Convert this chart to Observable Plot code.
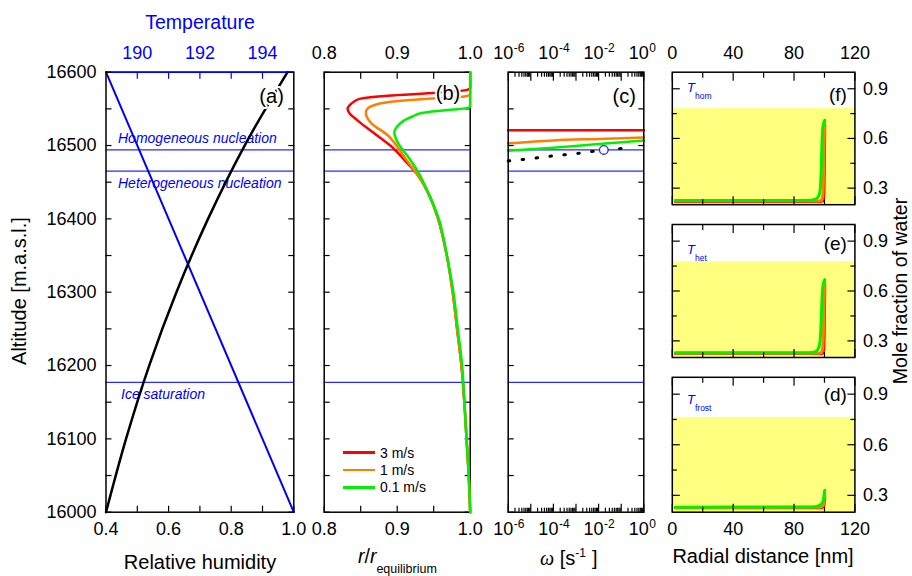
<!DOCTYPE html>
<html><head><meta charset="utf-8">
<script src="https://cdn.jsdelivr.net/npm/d3@7"></script>
<script src="https://cdn.jsdelivr.net/npm/@observablehq/plot@0.6"></script>
<style>
html,body{margin:0;padding:0;overflow:hidden;background:white;}
#chart{position:relative;width:912px;height:576px;overflow:hidden;font-family:'Liberation Sans',Arial,Helvetica,sans-serif;background:white;}
#chart svg{position:absolute;left:0;top:0;}
.lbl{position:absolute;white-space:nowrap;line-height:1;}
</style></head><body><div id="chart"></div>
<script>
// ---------- Panel (a) ----------
const altitudeDomain = [16000, 16600];
const rhDomain = [0.4, 1.0];
const tempDomain = [189, 195];
const rhAltitude = [16000, 16100, 16200, 16300, 16400, 16500, 16600];
const relativeHumidity = [0.400, 0.464, 0.538, 0.625, 0.726, 0.843, 0.980];
const tempAltitude = [16000, 16600];
const temperature = [195.0, 189.0];
const levelAltitude = [16494, 16465, 16177];
const levelName = ["Homogeneous nucleation", "Heterogeneous nucleation", "Ice saturation"];
const tempTickValues = [190, 191, 192, 193, 194];
const tempLabelValues = [190, 192, 194];
const rhTickValues = [0.4, 0.5, 0.6, 0.7, 0.8, 0.9, 1.0];
const rhLabelValues = [0.4, 0.6, 0.8, 1.0];
const altLabelValues = [16000, 16100, 16200, 16300, 16400, 16500, 16600];
const altTickValues = [16000, 16050, 16100, 16150, 16200, 16250, 16300, 16350, 16400, 16450, 16500, 16550, 16600];

// ---------- Panel (b) ----------
const ratioDomain = [0.8, 1.0];
const speeds = ["3 m/s", "1 m/s", "0.1 m/s"];
const speedColors = ["#ff0000", "#ff8000", "#00f000"];
const altB3 = [16000,16050,16100,16150,16200,16250,16300,16350,16400,16430,16460,16480,16496,16517,16534,16545,16550,16555,16560,16564,16568,16572,16576,16579,16600];
const ratioB3 = [1.000,0.998,0.995,0.992,0.988,0.982,0.976,0.968,0.956,0.945,0.928,0.910,0.895,0.868,0.846,0.834,0.832,0.835,0.841,0.850,0.887,0.955,0.996,1.000,1.000];
const altB1 = [16000,16050,16100,16150,16200,16250,16300,16350,16400,16430,16460,16480,16493,16514,16531,16540,16545,16551,16555,16558,16561,16563,16565,16567,16570,16600];
const ratioB1 = [1.000,0.998,0.995,0.992,0.988,0.982,0.976,0.968,0.956,0.945,0.928,0.913,0.904,0.887,0.864,0.858,0.857,0.860,0.868,0.880,0.905,0.932,0.965,0.992,1.000,1.000];
const altB01 = [16000,16050,16100,16150,16200,16250,16300,16350,16400,16434,16465,16486,16502,16510,16518,16526,16534,16540,16544,16547,16549,16551,16553,16600];
const ratioB01 = [1.000,0.998,0.995,0.992,0.989,0.983,0.977,0.968,0.957,0.943,0.928,0.914,0.902,0.898,0.896,0.900,0.909,0.922,0.932,0.955,0.977,0.995,1.000,1.000];
const ratioTickValues = [0.8, 0.85, 0.9, 0.95, 1.0];
const ratioLabelValues = [0.8, 0.9, 1.0];

// ---------- Panel (c) ----------
const omegaDomain = [1e-6, 1];
const omegaB3 = [1e-6, 1]; const altC3 = [16521, 16521];
const omegaB1 = [1e-6, 1e-4, 1e-2, 1]; const altC1 = [16503, 16507, 16509, 16511];
const omegaB01 = [1e-6, 1e-4, 1e-2, 1]; const altC01 = [16493, 16497, 16502, 16507];
const omegaDotted = [1e-6, 1e-5, 1e-4, 1e-3, 1e-2, 1e-1, 0.3];
const altDotted = [16479, 16482, 16486, 16489, 16493, 16496, 16499];
const omegaCircle = [0.017]; const altCircle = [16494];
const omegaDecades = [1e-6, 1e-5, 1e-4, 1e-3, 1e-2, 1e-1, 1];
const minorMultipliers = [2, 3, 4, 5, 6, 7, 8, 9];
const omegaLabelValues = [1e-6, 1e-4, 1e-2, 1];
const omegaExponents = ["-6", "-4", "-2", "0"];

// ---------- Panels (d)(e)(f) ----------
const radialDomain = [0, 120];
const moleDomain = [0.2, 1.0];
const panelLetters = ["(f)", "(e)", "(d)"];
const panelSubscripts = ["hom", "het", "frost"];
const yellowTop = [0.78, 0.776, 0.762];
const radialTickValues = [0, 40, 80, 120];
const radialMinorTicks = [20, 60, 100];
const radialLabelValues = [0, 40, 80, 120];
const moleTickValues = [0.3, 0.6, 0.9];
const moleMinorTicks = [0.45, 0.75];
const moleLabelValues = [0.3, 0.6, 0.9];
// f
const rF3 = [2, 97, 99, 99.5, 99.8, 100, 100.2];          const vF3 = [0.220, 0.220, 0.223, 0.250, 0.350, 0.500, 0.680];
const rF1 = [2, 96, 98, 98.8, 99.3, 99.7, 100, 100.2];    const vF1 = [0.222, 0.222, 0.226, 0.250, 0.350, 0.550, 0.650, 0.700];
const rF01 = [2, 90, 93, 95, 96, 97, 97.5, 98, 98.4, 98.8, 99.4, 100.2];
const vF01 = [0.225, 0.226, 0.230, 0.238, 0.250, 0.280, 0.330, 0.450, 0.580, 0.650, 0.690, 0.710];
// e
const rE3 = [2, 97, 99, 99.5, 99.8, 100, 100.2];          const vE3 = [0.224, 0.224, 0.227, 0.250, 0.340, 0.480, 0.640];
const rE1 = [2, 96, 98, 98.8, 99.3, 99.7, 100, 100.2];    const vE1 = [0.226, 0.226, 0.230, 0.255, 0.350, 0.520, 0.620, 0.660];
const rE01 = [2, 90, 93, 95, 96, 97, 97.5, 98, 98.5, 99, 99.6, 100.2];
const vE01 = [0.228, 0.229, 0.232, 0.240, 0.255, 0.290, 0.350, 0.460, 0.570, 0.630, 0.655, 0.668];
// d
const rD3 = [2, 98, 99.5, 100, 100.2];                    const vD3 = [0.227, 0.227, 0.238, 0.265, 0.295];
const rD1 = [2, 97, 99, 99.7, 100.2];                     const vD1 = [0.228, 0.229, 0.238, 0.265, 0.310];
const rD01 = [2, 90, 94, 96, 97.5, 98.5, 99.2, 99.7, 100.2];
const vD01 = [0.230, 0.231, 0.233, 0.238, 0.245, 0.255, 0.270, 0.300, 0.330];

// ---------- helpers ----------
const W = 912, H = 576;
const FONT = "'Liberation Sans', Arial, Helvetica, sans-serif";
const BLUE = "#0000ff";
const LEVEL_BLUE = "#2a2aff";
const chart = document.getElementById("chart");
const zip = (xs, ys, kx, ky) => xs.map((v, i) => ({[kx]: v, [ky]: ys[i]}));
const styleObj = {background: "transparent", fontFamily: FONT, fontSize: "18px", overflow: "visible"};
const BOTTOM_PAD = 10, TOP_PAD = 13;

function frame(l, r, t, b) {
  return {width: W, height: H, marginLeft: l, marginRight: W - r, marginTop: t, marginBottom: H - b};
}
function inTicksX(anchor, ticks, size, stroke = "black") {
  return Plot.axisX({anchor, ticks, tickSize: size, dy: anchor === "bottom" ? -size : size,
    stroke, fill: "none", tickFormat: () => "", label: null, strokeWidth: 1.2});
}
function inTicksY(anchor, ticks, size, stroke = "black") {
  return Plot.axisY({anchor, ticks, tickSize: size, dx: anchor === "left" ? size : -size,
    stroke, fill: "none", tickFormat: () => "", label: null, strokeWidth: 1.2});
}
function mount(svg) { chart.appendChild(svg); }
function centered(html, cx, cy, size, extra = "", css = "") {
  const d = document.createElement("div");
  d.className = "lbl";
  d.style.cssText = `left:${cx}px;top:${cy}px;font-size:${size}px;transform:translate(-50%,-50%) ${extra};${css}`;
  d.innerHTML = html; chart.appendChild(d);
}
function atBaseline(html, x, baseline, size, css = "") {
  const d = document.createElement("div");
  d.className = "lbl";
  d.style.cssText = `left:${x}px;top:${baseline - 0.8465 * size}px;font-size:${size}px;${css}`;
  d.innerHTML = html; chart.appendChild(d);
}

const tToX = T => rhDomain[0] + (T - tempDomain[0]) / (tempDomain[1] - tempDomain[0]) * (rhDomain[1] - rhDomain[0]);
const xToT = x => tempDomain[0] + (x - rhDomain[0]) / (rhDomain[1] - rhDomain[0]) * (tempDomain[1] - tempDomain[0]);
const panelLabel = (txt, dx, dy, size) => Plot.text([txt], {frameAnchor: "top-right", dx, dy, text: d => d, textAnchor: "end",
  lineAnchor: "middle", fontSize: size, fill: "black", stroke: "white", strokeWidth: 4});

// ---------- Panel (a) ----------
const FA = frame(105.5, 293.3, 71.7, 511.7);
const labelStyle = {fill: BLUE, fontStyle: "italic", fontSize: 14, textAnchor: "start", stroke: "white", strokeWidth: 3};
mount(Plot.plot({
  ...FA, style: styleObj,
  x: {domain: rhDomain}, y: {domain: altitudeDomain},
  marks: [
    Plot.ruleY(levelAltitude, {stroke: LEVEL_BLUE, strokeWidth: 1.3}),
    Plot.text([levelAltitude[0]], {y: d => d, frameAnchor: "left", dx: 12, dy: -11, text: () => levelName[0], ...labelStyle}),
    Plot.text([levelAltitude[1]], {y: d => d, frameAnchor: "left", dx: 12, dy: 12, text: () => levelName[1], ...labelStyle}),
    Plot.text([levelAltitude[2]], {y: d => d, frameAnchor: "left", dx: 15, dy: 12, text: () => levelName[2], ...labelStyle}),
    Plot.line(zip(tempAltitude, temperature, "alt", "T"), {x: d => tToX(d.T), y: "alt", stroke: BLUE, strokeWidth: 2}),
    Plot.line(zip(rhAltitude, relativeHumidity, "alt", "rh"), {x: "rh", y: "alt", stroke: "black", strokeWidth: 2.5, curve: "monotone-y"}),
    panelLabel("(a)", -10, 24, 20),
    Plot.frame({stroke: "black", strokeWidth: 1.5}),
    Plot.ruleY([altitudeDomain[1]], {stroke: BLUE, strokeWidth: 1.6}),
    inTicksX("bottom", rhTickValues, 6),
    inTicksX("top", tempTickValues.map(tToX), 6, BLUE),
    inTicksY("left", altTickValues, 6),
    inTicksY("right", altTickValues, 6),
    Plot.axisX({anchor: "bottom", ticks: rhLabelValues, tickSize: 0, tickPadding: BOTTOM_PAD, tickFormat: d3.format(".1f"), label: null}),
    Plot.axisX({anchor: "top", ticks: tempLabelValues.map(tToX), tickSize: 0, tickPadding: TOP_PAD, tickFormat: d => String(Math.round(xToT(d))), fill: BLUE, label: null}),
    Plot.axisY({anchor: "left", ticks: altLabelValues, tickSize: 0, tickPadding: 9.5, tickFormat: d => String(d), label: null})
  ]
}));

// ---------- Panel (b) ----------
const FB = frame(323.7, 469.7, 71.7, 511.7);
mount(Plot.plot({
  ...FB, style: styleObj,
  x: {domain: ratioDomain}, y: {domain: altitudeDomain},
  marks: [
    Plot.ruleY(levelAltitude, {stroke: LEVEL_BLUE, strokeWidth: 1.3}),
    Plot.frame({stroke: "black", strokeWidth: 1.5}),
    inTicksX("bottom", ratioTickValues, 6),
    inTicksX("top", ratioTickValues, 6),
    inTicksY("left", altTickValues, 6),
    inTicksY("right", altTickValues, 6),
    Plot.line(zip(altB3, ratioB3, "alt", "r"), {x: "r", y: "alt", stroke: speedColors[0], strokeWidth: 2.5, curve: "monotone-y"}),
    Plot.line(zip(altB1, ratioB1, "alt", "r"), {x: "r", y: "alt", stroke: speedColors[1], strokeWidth: 2.5, curve: "monotone-y"}),
    Plot.line(zip(altB01, ratioB01, "alt", "r"), {x: "r", y: "alt", stroke: speedColors[2], strokeWidth: 2.5, curve: "monotone-y"}),
    panelLabel("(b)", -10, 21.5, 20),
    Plot.axisX({anchor: "bottom", ticks: ratioLabelValues, tickSize: 0, tickPadding: BOTTOM_PAD, tickFormat: d3.format(".1f"), label: null}),
    Plot.axisX({anchor: "top", ticks: ratioLabelValues, tickSize: 0, tickPadding: TOP_PAD, tickFormat: d3.format(".1f"), label: null})
  ]
}));

// ---------- Panel (c) ----------
const FC = frame(507.7, 643.3, 71.7, 511.7);
const omegaMinor = omegaDecades.slice(0, -1).flatMap(d => minorMultipliers.map(m => m * d));
mount(Plot.plot({
  ...FC, style: styleObj,
  x: {type: "log", domain: omegaDomain}, y: {domain: altitudeDomain},
  marks: [
    Plot.ruleY(levelAltitude, {stroke: LEVEL_BLUE, strokeWidth: 1.3}),
    Plot.line(zip(omegaDotted, altDotted, "w", "alt"), {x: "w", y: "alt", stroke: "black", strokeWidth: 3, strokeDasharray: "1.5,12.5", strokeLinecap: "round"}),
    Plot.line(zip(omegaB3, altC3, "w", "alt"), {x: "w", y: "alt", stroke: speedColors[0], strokeWidth: 2.5}),
    Plot.line(zip(omegaB1, altC1, "w", "alt"), {x: "w", y: "alt", stroke: speedColors[1], strokeWidth: 2.5, curve: "monotone-x"}),
    Plot.line(zip(omegaB01, altC01, "w", "alt"), {x: "w", y: "alt", stroke: speedColors[2], strokeWidth: 2.5, curve: "monotone-x"}),
    Plot.dot(zip(omegaCircle, altCircle, "w", "alt"), {x: "w", y: "alt", r: 4.3, stroke: LEVEL_BLUE, fill: "white", strokeWidth: 1.3}),
    panelLabel("(c)", -8, 24, 20),
    Plot.frame({stroke: "black", strokeWidth: 1.5}),
    inTicksX("bottom", omegaDecades, 8), inTicksX("bottom", omegaMinor, 4),
    inTicksX("top", omegaDecades, 8), inTicksX("top", omegaMinor, 4),
    inTicksY("left", altTickValues, 6),
    inTicksY("right", altTickValues, 6),
    Plot.text(omegaLabelValues, {x: d => d, frameAnchor: "bottom", dy: 23, dx: 5, text: () => "10", textAnchor: "end", lineAnchor: "bottom", fontSize: 18}),
    Plot.text(omegaLabelValues, {x: d => d, frameAnchor: "bottom", dy: 15.5, dx: 5.5, text: (d, i) => omegaExponents[i], textAnchor: "start", lineAnchor: "bottom", fontSize: 12}),
    Plot.text(omegaLabelValues, {x: d => d, frameAnchor: "top", dy: -13, dx: 5, text: () => "10", textAnchor: "end", lineAnchor: "bottom", fontSize: 18}),
    Plot.text(omegaLabelValues, {x: d => d, frameAnchor: "top", dy: -20.5, dx: 5.5, text: (d, i) => omegaExponents[i], textAnchor: "start", lineAnchor: "bottom", fontSize: 12})
  ]
}));

// ---------- Panels (f), (e), (d) ----------
const radialFrames = [[71.7, 204.2], [224.0, 357.0], [376.8, 511.7]];
const radialSeries = [
  [[rF3, vF3], [rF1, vF1], [rF01, vF01]],
  [[rE3, vE3], [rE1, vE1], [rE01, vE01]],
  [[rD3, vD3], [rD1, vD1], [rD01, vD01]]
];
const letterDy = [23, 19, 17.5];
radialFrames.forEach(([t, b], k) => {
  const marks = [
    Plot.rect([yellowTop[k]], {x1: radialDomain[0], x2: radialDomain[1], y1: moleDomain[0], y2: d => d, fill: "#ffff80"}),
    ...radialSeries[k].map(([rs, vs], j) =>
      Plot.line(zip(rs, vs, "r", "v"), {x: "r", y: "v", stroke: speedColors[j], strokeWidth: 3, curve: "monotone-x"})),
    Plot.frame({stroke: "black", strokeWidth: 1.5}),
    inTicksX("bottom", radialTickValues, 8), inTicksX("bottom", radialMinorTicks, 5),
    inTicksX("top", radialTickValues, 8), inTicksX("top", radialMinorTicks, 5),
    inTicksY("left", moleTickValues, 8), inTicksY("left", moleMinorTicks, 5),
    inTicksY("right", moleTickValues, 8), inTicksY("right", moleMinorTicks, 5),
    Plot.text([panelLetters[k]], {frameAnchor: "top-right", dx: -8, dy: letterDy[k], text: d => d, textAnchor: "end", lineAnchor: "middle", fontSize: 19, fill: "black"}),
    Plot.axisY({anchor: "right", ticks: moleLabelValues, tickSize: 0, tickPadding: 8, tickFormat: d3.format(".1f"), label: null})
  ];
  if (k === 0) marks.push(Plot.axisX({anchor: "top", ticks: radialLabelValues, tickSize: 0, tickPadding: TOP_PAD, tickFormat: d => String(d), label: null}));
  if (k === 2) marks.push(Plot.axisX({anchor: "bottom", ticks: radialLabelValues, tickSize: 0, tickPadding: BOTTOM_PAD, tickFormat: d => String(d), label: null}));
  mount(Plot.plot({
    ...frame(671.8, 854.4, t, b), style: styleObj,
    x: {domain: radialDomain}, y: {domain: moleDomain},
    marks
  }));
});

// ---------- Titles, legend, annotations ----------
centered("Temperature", 200, 23, 19.5, "", `color:${BLUE}`);
centered("Altitude [m.a.s.l.]", 19, 291, 20, "rotate(-90deg)");
centered("Relative humidity", 200, 561.5, 20);
atBaseline(`<i>r</i>/<i>r</i><span style="font-size:12.5px;position:relative;top:10px;">equilibrium</span>`, 358, 564, 19.5);
atBaseline(`<span style="font-family:'Liberation Serif',serif;font-style:italic;">ω</span> [s<span style="font-size:12px;position:relative;top:-8px;">-1</span><span style="margin-left:6px">]</span>`, 540, 565, 20);
centered("Radial distance [nm]", 763, 556, 20);
centered("Mole fraction of water", 900.5, 291, 19.5, "rotate(-90deg)");

const legendY = [452.7, 470, 487.3];
speeds.forEach((s, i) => {
  const d = document.createElement("div");
  d.className = "lbl";
  d.style.cssText = `left:343px;top:${legendY[i] - 7}px;height:14px;font-size:14px;display:flex;align-items:center;`;
  d.innerHTML = `<span style="display:inline-block;width:32px;height:2.6px;background:${speedColors[i]};margin-right:5px;"></span><span>${s}</span>`;
  chart.appendChild(d);
});

const tBaselines = [92, 254, 404];
panelSubscripts.forEach((s, i) => {
  atBaseline(`<i>T</i><span style="font-size:8.5px;position:relative;top:7px;">${s}</span>`, 687, tBaselines[i], 13, `color:${BLUE}`);
});
</script></body></html>
